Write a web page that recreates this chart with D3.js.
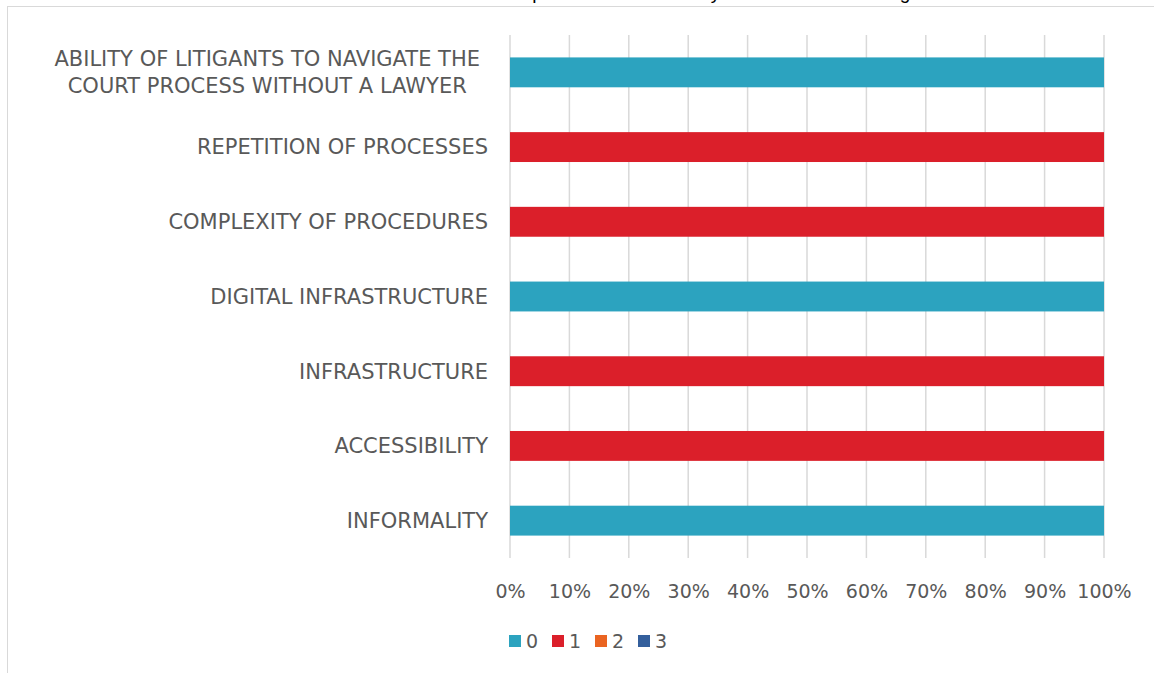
<!DOCTYPE html>
<html>
<head>
<meta charset="utf-8">
<script src="https://cdn.jsdelivr.net/npm/d3@7"></script>
<style>
  html, body { margin: 0; padding: 0; background: #ffffff; }
  svg { display: block; }
</style>
</head>
<body>
<svg id="chart" width="1154" height="673"></svg>
<script>
// Factors, listed top to bottom as they appear on the chart
const categories = [
  "ABILITY OF LITIGANTS TO NAVIGATE THE COURT PROCESS WITHOUT A LAWYER",
  "REPETITION OF PROCESSES",
  "COMPLEXITY OF PROCEDURES",
  "DIGITAL INFRASTRUCTURE",
  "INFRASTRUCTURE",
  "ACCESSIBILITY",
  "INFORMALITY"
];

// Rating series (responses per factor)
const seriesNames = ["0", "1", "2", "3"];
const rating0 = [1, 0, 0, 1, 0, 0, 1];
const rating1 = [0, 1, 1, 0, 1, 1, 0];
const rating2 = [0, 0, 0, 0, 0, 0, 0];
const rating3 = [0, 0, 0, 0, 0, 0, 0];

const xTicks = [0, 0.1, 0.2, 0.3, 0.4, 0.5, 0.6, 0.7, 0.8, 0.9, 1];
const titleText = "Chart 16: Factors that affect the responsiveness of Family Court and its handling of cases";

const colors = ["#2ca3bf", "#db1f2a", "#ea6421", "#345f9c"];
const textColor = "#595959";
const fontFamily = "'DejaVu Sans', 'Open Sans', sans-serif";

const svg = d3.select("#chart");
const W = 1154, H = 673;
const plot = { left: 510, right: 1104, top: 35, bottom: 558 };

// Table for the stack layout
const rows = categories.map((c, i) => ({
  category: c,
  "0": rating0[i], "1": rating1[i], "2": rating2[i], "3": rating3[i]
}));
const stacked = d3.stack().keys(seriesNames).offset(d3.stackOffsetExpand)(rows);

const x = d3.scaleLinear().domain([0, 1]).range([plot.left, plot.right]);
const y = d3.scaleBand().domain(categories).range([plot.top, plot.bottom]).paddingInner(0.6).paddingOuter(0.3);

// Chart frame
svg.append("rect")
  .attr("x", 7.5).attr("y", 6.5)
  .attr("width", W + 20).attr("height", H + 20)
  .attr("fill", "#ffffff")
  .attr("stroke", "#d9d9d9").attr("stroke-width", 1);

// Title (sits above the frame)
svg.append("text")
  .attr("x", 610).attr("y", -1)
  .attr("text-anchor", "middle")
  .attr("font-family", "'Liberation Sans', Arial, sans-serif")
  .attr("font-size", 19)
  .attr("fill", "#000000")
  .text(titleText);

// Vertical gridlines
svg.append("g")
  .selectAll("line")
  .data(xTicks)
  .join("line")
  .attr("x1", d => x(d)).attr("x2", d => x(d))
  .attr("y1", plot.top).attr("y2", plot.bottom)
  .attr("stroke", "#d9d9d9").attr("stroke-width", 1.5);

// Stacked bars
svg.append("g")
  .selectAll("g")
  .data(stacked)
  .join("g")
  .attr("fill", (d, i) => colors[i])
  .selectAll("rect")
  .data(d => d)
  .join("rect")
  .attr("x", d => x(d[0]))
  .attr("y", d => y(d.data.category))
  .attr("width", d => x(d[1]) - x(d[0]))
  .attr("height", y.bandwidth());

// X axis tick labels
const xAxis = d3.axisBottom(x).tickValues(xTicks).tickFormat(d3.format(".0%")).tickSize(0).tickPadding(0);
const gx = svg.append("g").attr("transform", `translate(0,${plot.bottom + 24})`).call(xAxis);
gx.select(".domain").remove();
gx.selectAll("text")
  .attr("font-family", fontFamily)
  .attr("font-size", 19)
  .attr("fill", textColor)
  .attr("dy", "0.35em")
  .attr("y", 9);

// Category labels, wrapped when too wide
const labelRight = 488;
const maxLabelWidth = 470;
const lineHeight = 27;
const labelG = svg.append("g")
  .attr("font-family", fontFamily)
  .attr("font-size", 21)
  .attr("fill", textColor);

categories.forEach(cat => {
  const cy = y(cat) + y.bandwidth() / 2;
  const words = cat.split(" ");
  const probe = labelG.append("text").attr("visibility", "hidden");
  const lines = [];
  let line = [];
  words.forEach(w => {
    line.push(w);
    probe.text(line.join(" "));
    if (probe.node().getComputedTextLength() > maxLabelWidth && line.length > 1) {
      line.pop();
      lines.push(line.join(" "));
      line = [w];
    }
  });
  lines.push(line.join(" "));
  const widths = lines.map(l => { probe.text(l); return probe.node().getComputedTextLength(); });
  probe.remove();
  const blockW = d3.max(widths);
  const multi = lines.length > 1;
  const right = multi ? labelRight - 8 : labelRight;
  const cx = right - blockW / 2;
  lines.forEach((l, i) => {
    labelG.append("text")
      .attr("x", multi ? cx : right)
      .attr("y", cy + (i - (lines.length - 1) / 2) * lineHeight)
      .attr("dy", "0.35em")
      .attr("text-anchor", multi ? "middle" : "end")
      .text(l);
  });
});

// Legend
const legendItems = seriesNames.map((n, i) => ({ name: n, color: colors[i] }));
const legend = svg.append("g").attr("transform", "translate(509,641)");
const itemStep = 43;
const li = legend.selectAll("g")
  .data(legendItems)
  .join("g")
  .attr("transform", (d, i) => `translate(${i * itemStep},0)`);
li.append("rect")
  .attr("x", 0).attr("y", -6)
  .attr("width", 12).attr("height", 12)
  .attr("fill", d => d.color);
li.append("text")
  .attr("x", 17).attr("y", 0)
  .attr("dy", "0.35em")
  .attr("font-family", fontFamily)
  .attr("font-size", 19)
  .attr("fill", textColor)
  .text(d => d.name);
</script>
</body>
</html>
